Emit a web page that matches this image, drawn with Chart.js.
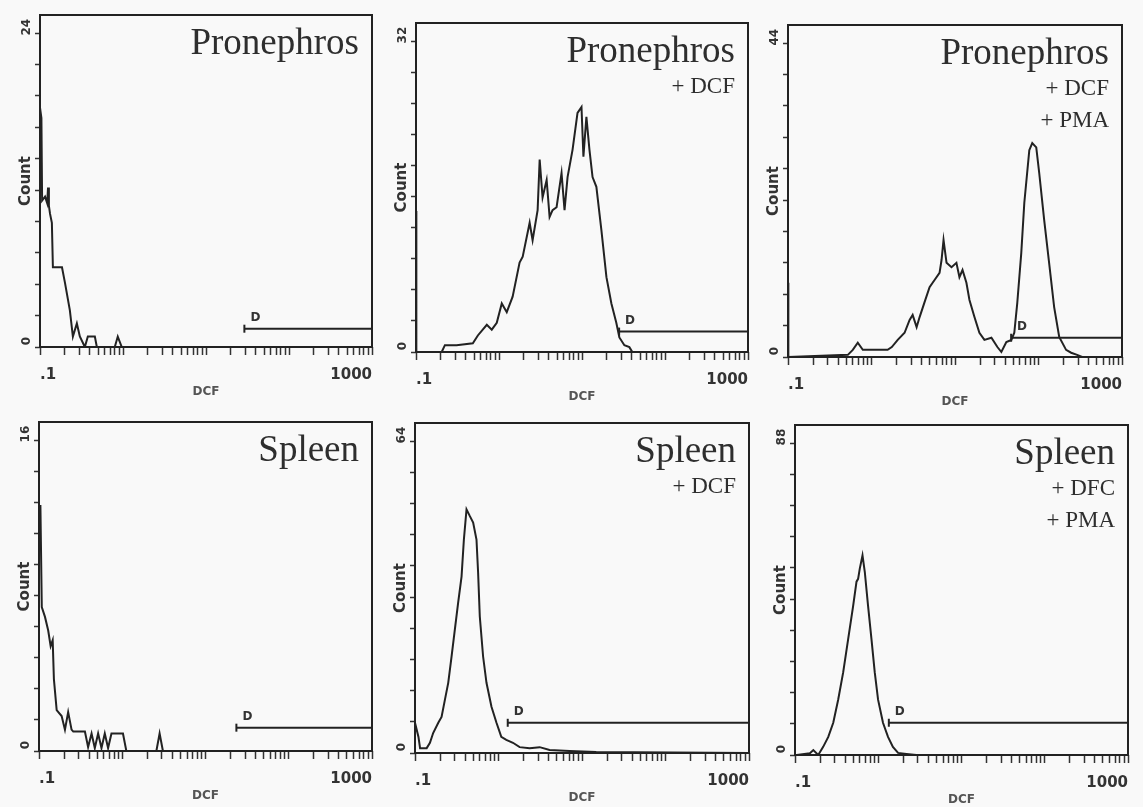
<!DOCTYPE html>
<html>
<head>
<meta charset="utf-8">
<script src="https://cdn.jsdelivr.net/npm/chart.js@4.4.1/dist/chart.umd.min.js"></script>
<style>
  html, body { margin: 0; padding: 0; background: #f9f9f9; }
  #page { position: relative; width: 1143px; height: 807px; overflow: hidden; }
  #page canvas { position: absolute; }
</style>
</head>
<body>
<div id="page"></div>
<script>
// Pronephros (no dye)
var pro1Dcf   = [0.1, 0.1, 0.104, 0.106, 0.115, 0.122, 0.125, 0.128, 0.132, 0.139, 0.143, 0.184, 0.2, 0.229, 0.249, 0.278, 0.302, 0.347, 0.377, 0.458, 0.484, 0.796, 0.865, 0.966, 1000];
var pro1Count = [0, 18.3, 17.5, 11.2, 11.5, 11.0, 12.2, 10.8, 10.2, 9.5, 6.1, 6.1, 4.9, 2.8, 0.8, 1.8, 0.8, 0, 0.8, 0.8, 0, 0, 0.8, 0, 0];

// Pronephros + DCF
var pro2Dcf   = [0.1, 0.1, 0.102, 0.204, 0.223, 0.308, 0.484, 0.556, 0.713, 0.818, 0.94, 1.08, 1.24, 1.46, 1.77, 1.93, 2.34, 2.54, 2.92, 3.09, 3.35, 3.75, 4.07, 4.42, 4.94, 5.67, 6.16, 6.70, 7.69, 8.83, 9.86, 10.4, 11.3, 12.3, 13.4, 14.9, 17.1, 19.7, 22.6, 25.9, 28.2, 32.4, 37.2, 40.4, 1000];
var pro2Count = [0, 14.5, 0, 0, 0.7, 0.7, 0.9, 1.7, 2.8, 2.3, 3.0, 5.0, 4.1, 5.7, 9.2, 9.8, 13.3, 11.5, 14.6, 19.8, 15.9, 17.7, 13.9, 14.6, 14.9, 18.4, 14.6, 18.0, 20.8, 24.6, 25.2, 20.1, 24.2, 20.8, 18.0, 17.0, 12.6, 7.7, 5.0, 3.0, 1.5, 0.7, 0.5, 0, 0];

// Pronephros + DCF + PMA
var pro3Dcf   = [0.1, 0.1, 0.102, 0.521, 0.597, 0.685, 0.787, 0.878, 1.56, 1.75, 2.06, 2.49, 2.86, 3.11, 3.47, 3.77, 4.32, 4.96, 5.69, 6.53, 6.90, 7.29, 7.92, 9.08, 10.4, 11.3, 12.3, 13.7, 14.9, 17.1, 19.6, 22.5, 27.3, 32.2, 35.9, 41.2, 47.3, 51.3, 55.7, 62.2, 67.6, 77.6, 84.2, 94.0, 102, 117, 134, 154, 177, 214, 246, 290, 333, 1000];
var pro3Count = [0, 10.4, 0, 0.3, 1.0, 2.0, 1.0, 1.0, 1.0, 1.4, 2.4, 3.4, 5.2, 5.9, 4.2, 5.6, 7.7, 9.8, 10.8, 11.8, 13.6, 16.4, 13.2, 12.6, 13.2, 11.2, 12.2, 10.4, 8.0, 5.6, 3.4, 2.4, 2.7, 1.4, 0.7, 2.1, 2.4, 3.4, 7.6, 14.6, 21.6, 29.0, 30.0, 29.4, 25.8, 19.2, 13.2, 7.0, 2.8, 1.0, 0.6, 0.3, 0, 0];

// Spleen (no dye)
var spl1Dcf   = [0.1, 0.1, 0.104, 0.108, 0.118, 0.129, 0.138, 0.146, 0.151, 0.163, 0.187, 0.205, 0.224, 0.246, 0.258, 0.356, 0.389, 0.428, 0.468, 0.513, 0.563, 0.617, 0.676, 0.742, 1.02, 1.12, 2.57, 2.81, 3.08, 1000];
var spl1Count = [0, 12.6, 12.6, 7.4, 6.9, 6.2, 5.4, 5.7, 3.7, 2.1, 1.8, 1.1, 2.0, 1.1, 1.0, 1.0, 0.2, 0.9, 0.15, 0.9, 0.15, 0.9, 0.15, 0.9, 0.9, 0, 0, 0.9, 0, 0];

// Spleen + DCF
var spl2Dcf   = [0.1, 0.11, 0.115, 0.138, 0.151, 0.165, 0.19, 0.208, 0.228, 0.25, 0.274, 0.3, 0.329, 0.361, 0.385, 0.414, 0.454, 0.497, 0.545, 0.57, 0.597, 0.654, 0.718, 0.824, 0.946, 1.08, 1.24, 1.49, 1.79, 2.36, 3.11, 4.09, 7.1, 14.8, 1000];
var spl2Count = [6.2, 3.3, 1.0, 1.0, 2.1, 4.1, 6.2, 7.4, 10.9, 14.4, 19.8, 25.3, 30.9, 36.2, 43.8, 50.0, 48.6, 47.3, 43.8, 37.0, 28.0, 19.8, 14.4, 9.5, 6.2, 3.3, 2.7, 2.1, 1.2, 1.0, 1.2, 0.6, 0.4, 0.2, 0];

// Spleen + DFC + PMA
var spl3Dcf   = [0.1, 0.105, 0.151, 0.166, 0.19, 0.218, 0.251, 0.288, 0.33, 0.379, 0.435, 0.499, 0.548, 0.573, 0.6, 0.647, 0.689, 0.755, 0.829, 0.908, 0.995, 1.14, 1.31, 1.5, 1.73, 2.18, 2.87, 1000];
var spl3Count = [0, 0, 0.5, 1.4, 0, 2.3, 5.1, 9.1, 15.6, 23.3, 32.7, 42.0, 48.9, 49.7, 52.6, 56.3, 51.7, 42.0, 32.7, 23.3, 15.6, 9.1, 5.1, 2.3, 0.6, 0.3, 0, 0];

// gate "D" (start on DCF axis, drawn height in counts)
var gateStart = [29, 28, 47, 23.5, 1.29, 1.34];
var gateLevel = [1.4, 2.1, 2.7, 1.2, 6.2, 9.1];

// labelled top of the count axis
var countMax = [24, 32, 44, 16, 64, 88];

var panelTitles = ['Pronephros', 'Pronephros', 'Pronephros', 'Spleen', 'Spleen', 'Spleen'];
var panelNotes = [[], ['+ DCF'], ['+ DCF', '+ PMA'], [], ['+ DCF'], ['+ DFC', '+ PMA']];

var xLabelValues = [0.1, 1000];
var xLabelText = ['.1', '1000'];

var allDcf = [pro1Dcf, pro2Dcf, pro3Dcf, spl1Dcf, spl2Dcf, spl3Dcf];
var allCount = [pro1Count, pro2Count, pro3Count, spl1Count, spl2Count, spl3Count];

// plot frames on the page: left, top, right, bottom
var frames = [
  [40, 15, 373, 347], [416, 23, 749, 352], [788, 25, 1123, 357],
  [39, 422, 373, 751], [415, 423, 750, 753], [795, 425, 1129, 755]
];

// log ticks 1..9 per decade
var xTickValues = [];
for (var d = -1; d <= 2; d++) {
  for (var k = 1; k <= 9; k++) xTickValues.push(k * Math.pow(10, d));
}
xTickValues.push(1000);

var ink = '#222';

// box, titles and gate letter
var panelDecor = {
  id: 'panelDecor',
  afterDatasetsDraw: function (chart, args, opts) {
    var ctx = chart.ctx, a = chart.chartArea;
    ctx.save();
    ctx.strokeStyle = ink;
    ctx.lineWidth = 2;
    ctx.strokeRect(a.left, a.top, a.right - a.left, a.bottom - a.top);

    ctx.fillStyle = '#2e2e2e';
    ctx.textAlign = 'right';
    ctx.textBaseline = 'alphabetic';
    ctx.font = '37px "Liberation Serif"';
    ctx.fillText(opts.title, a.right - 13, a.top + 39);
    ctx.font = '23px "Liberation Serif"';
    opts.notes.forEach(function (t, i) {
      ctx.fillText(t, a.right - 13, a.top + 70 + i * 32);
    });

    var gx = chart.scales.x.getPixelForValue(opts.gateStart);
    var gy = chart.scales.y.getPixelForValue(opts.gateLevel);
    ctx.fillStyle = '#333';
    ctx.textAlign = 'left';
    ctx.font = 'bold 12px "DejaVu Sans"';
    ctx.fillText('D', gx + 6, gy - 8);
    ctx.restore();
  }
};

var page = document.getElementById('page');

function makePanel(i) {
  var f = frames[i];
  var top = countMax[i];
  var canvas = document.createElement('canvas');
  canvas.width = f[2] - f[0] + 50;
  canvas.height = f[3] - f[1] + 15 + 52;
  canvas.style.left = (f[0] - 40) + 'px';
  canvas.style.top = (f[1] - 15) + 'px';
  page.appendChild(canvas);

  var hist = allDcf[i].map(function (x, j) { return { x: x, y: allCount[i][j] }; });
  var gate = [{ x: gateStart[i], y: gateLevel[i] }, { x: 1000, y: gateLevel[i] }];

  return new Chart(canvas, {
    type: 'line',
    data: {
      datasets: [{
        data: hist,
        borderColor: ink,
        borderWidth: 2,
        pointRadius: 0,
        tension: 0,
        fill: false
      }, {
        data: gate,
        borderColor: ink,
        borderWidth: 2,
        pointStyle: 'line',
        pointRotation: 90,
        pointRadius: 4,
        pointBorderWidth: 2,
        pointBorderColor: ink,
        clip: 6
      }]
    },
    options: {
      responsive: false,
      animation: false,
      events: [],
      layout: { padding: { top: 15, right: 10, left: 0, bottom: 0 } },
      plugins: {
        legend: { display: false },
        tooltip: { enabled: false },
        panelDecor: { title: panelTitles[i], notes: panelNotes[i], gateStart: gateStart[i], gateLevel: gateLevel[i] }
      },
      scales: {
        x: {
          type: 'logarithmic',
          min: 0.1,
          max: 1000,
          afterFit: function (s) { s.height = 52; },
          afterBuildTicks: function (s) { s.ticks = xTickValues.map(function (v) { return { value: v }; }); },
          border: { display: false },
          grid: { drawOnChartArea: false, drawTicks: true, tickLength: 8, tickWidth: 1.5, tickColor: '#333' },
          ticks: {
            autoSkip: false,
            maxRotation: 0,
            align: 'inner',
            padding: 11,
            color: '#333',
            font: { family: 'DejaVu Sans', size: 15, weight: 'bold' },
            callback: function (v) {
              for (var n = 0; n < xLabelValues.length; n++) {
                if (Math.abs(v - xLabelValues[n]) < 1e-9) return xLabelText[n];
              }
              return '';
            }
          },
          title: {
            display: true,
            text: 'DCF',
            color: '#555',
            padding: { top: 0, bottom: 0 },
            font: { family: 'DejaVu Sans', size: 12, weight: 'bold' }
          }
        },
        y: {
          min: 0,
          max: top * 1.058,
          afterFit: function (s) { s.width = 40; },
          afterBuildTicks: function (s) {
            var t = [];
            for (var n = 0; n <= 10; n++) t.push({ value: top * n / 10 });
            s.ticks = t;
          },
          border: { display: false },
          grid: { drawOnChartArea: false, drawTicks: true, tickLength: 5, tickWidth: 1.5, tickColor: '#333' },
          ticks: {
            autoSkip: false,
            minRotation: 90,
            maxRotation: 90,
            crossAlign: 'center',
            padding: 0,
            labelOffset: -6,
            color: '#333',
            font: { family: 'DejaVu Sans', size: 12, weight: 'bold' },
            callback: function (v, idx) {
              if (idx === 0) return '0';
              if (idx === 10) return String(top);
              return '';
            }
          },
          title: {
            display: true,
            text: 'Count',
            color: '#333',
            padding: { top: 17, bottom: 0 },
            font: { family: 'DejaVu Sans', size: 15, weight: 'bold' }
          }
        }
      }
    },
    plugins: [panelDecor]
  });
}

for (var p = 0; p < 6; p++) makePanel(p);
</script>
</body>
</html>
